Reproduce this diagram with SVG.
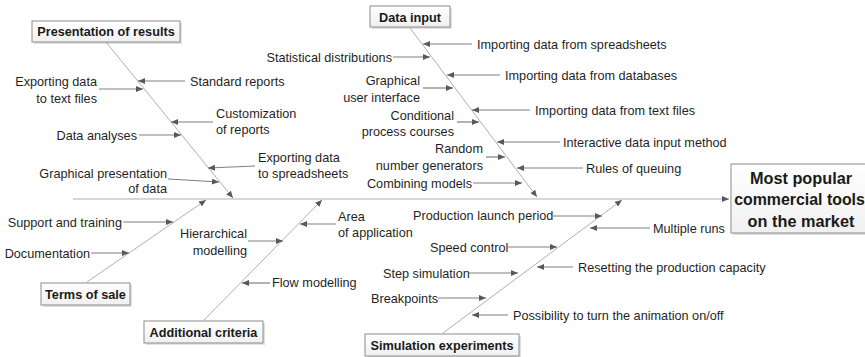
<svg xmlns="http://www.w3.org/2000/svg" width="865" height="357" viewBox="0 0 865 357">
  <defs>
    <style>
      .lbl { font-family: "Liberation Sans", Arial, sans-serif; font-size: 12.7px; fill: #1f1f1f; }
      .end { text-anchor: end; }
      .ttl { font-family: "Liberation Sans", Arial, sans-serif; font-size: 12.7px; font-weight: bold; fill: #1a1a1a; text-anchor: middle; }
      .big { font-family: "Liberation Sans", Arial, sans-serif; font-size: 16.3px; font-weight: bold; fill: #1a1a1a; text-anchor: middle; }
      .box { fill: url(#boxFill); stroke: #8c8c8c; stroke-width: 1; }
      .shadow { fill: #000; opacity: 0.12; }
      .spine { fill: none; stroke: #a6a6a6; stroke-width: 0.9; marker-end: url(#tip); }
      .cause { fill: none; stroke: #808080; stroke-width: 1.2; marker-end: url(#tip); }
    </style>
    <linearGradient id="boxFill" x1="0" y1="0" x2="0" y2="1">
      <stop offset="0" stop-color="#ffffff"/>
      <stop offset="1" stop-color="#f0f0f0"/>
    </linearGradient>
    <marker id="tip" markerUnits="userSpaceOnUse" markerWidth="8" markerHeight="6" refX="7" refY="3" orient="auto">
      <path d="M0,0 L7,3 L0,6 Z" fill="#595959"/>
    </marker>
  </defs>

  <!-- connectors: backbone, category bones and cause arrows -->
  <g id="connectors">
    <line class="spine" x1="73" y1="199" x2="729" y2="199"/>
    <line class="spine" x1="106" y1="42" x2="233" y2="198"/>
    <line class="spine" x1="410" y1="28" x2="537" y2="197"/>
    <line class="spine" x1="87" y1="282" x2="206" y2="200"/>
    <line class="spine" x1="204" y1="320" x2="322" y2="200"/>
    <line class="spine" x1="443" y1="333" x2="622" y2="200"/>

    <!-- presentation of results -->
    <line class="cause" x1="99" y1="89" x2="143" y2="89"/>
    <line class="cause" x1="185" y1="81" x2="138" y2="81"/>
    <line class="cause" x1="213" y1="122" x2="171" y2="122"/>
    <line class="cause" x1="139" y1="135" x2="181" y2="135"/>
    <line class="cause" x1="255" y1="166" x2="208" y2="168"/>
    <line class="cause" x1="168" y1="179" x2="219" y2="182"/>

    <!-- data input -->
    <line class="cause" x1="472" y1="44" x2="423" y2="44"/>
    <line class="cause" x1="393" y1="57" x2="430" y2="57"/>
    <line class="cause" x1="500" y1="75" x2="447" y2="75"/>
    <line class="cause" x1="423" y1="88" x2="453" y2="88"/>
    <line class="cause" x1="530" y1="110" x2="472" y2="110"/>
    <line class="cause" x1="457" y1="122" x2="479" y2="122"/>
    <line class="cause" x1="560" y1="142" x2="497" y2="142"/>
    <line class="cause" x1="486" y1="157" x2="505" y2="157"/>
    <line class="cause" x1="583" y1="168" x2="517" y2="168"/>
    <line class="cause" x1="473" y1="183" x2="522" y2="183"/>

    <!-- terms of sale -->
    <line class="cause" x1="123" y1="222" x2="173" y2="222"/>
    <line class="cause" x1="91" y1="253" x2="129" y2="253"/>

    <!-- additional criteria -->
    <line class="cause" x1="248" y1="241" x2="283" y2="241"/>
    <line class="cause" x1="336" y1="224" x2="300" y2="224"/>
    <line class="cause" x1="270" y1="283" x2="242" y2="283"/>

    <!-- simulation experiments -->
    <line class="cause" x1="553" y1="216" x2="602" y2="216"/>
    <line class="cause" x1="650" y1="228" x2="590" y2="228"/>
    <line class="cause" x1="508" y1="247" x2="557" y2="247"/>
    <line class="cause" x1="573" y1="267" x2="537" y2="267"/>
    <line class="cause" x1="469" y1="273" x2="518" y2="273"/>
    <line class="cause" x1="438" y1="298" x2="486" y2="298"/>
    <line class="cause" x1="508" y1="315" x2="472" y2="315"/>
  </g>

  <!-- category boxes -->
  <g id="presentation-of-results">
    <rect class="shadow" x="34" y="23" width="148" height="21"/>
    <rect class="box" x="32" y="21" width="148" height="21"/>
    <text class="ttl" x="106" y="36">Presentation of results</text>
  </g>
  <g id="data-input">
    <rect class="shadow" x="372" y="8" width="80" height="21"/>
    <rect class="box" x="370" y="6" width="80" height="21"/>
    <text class="ttl" x="410" y="21.5">Data input</text>
  </g>
  <g id="terms-of-sale">
    <rect class="shadow" x="43" y="285" width="89" height="22"/>
    <rect class="box" x="41" y="283" width="89" height="22"/>
    <text class="ttl" x="85.5" y="298.5">Terms of sale</text>
  </g>
  <g id="additional-criteria">
    <rect class="shadow" x="146" y="323" width="119" height="22"/>
    <rect class="box" x="144" y="321" width="119" height="22"/>
    <text class="ttl" x="203.5" y="336.5">Additional criteria</text>
  </g>
  <g id="simulation-experiments">
    <rect class="shadow" x="367" y="336" width="154" height="22"/>
    <rect class="box" x="365" y="334" width="154" height="22"/>
    <text class="ttl" x="442" y="349.5">Simulation experiments</text>
  </g>
  <g id="effect">
    <rect class="shadow" x="733" y="166" width="140" height="69"/>
    <rect class="box" x="731" y="164" width="140" height="69"/>
    <text class="big" x="801" y="183.5">Most popular</text>
    <text class="big" x="799.5" y="205" style="font-size:15.9px">commercial tools</text>
    <text class="big" x="801" y="226.5">on the market</text>
  </g>

  <!-- causes -->
  <g id="causes-presentation">
    <text class="lbl end" x="97" y="85.5">Exporting data</text>
    <text class="lbl end" x="97" y="102.5">to text files</text>
    <text class="lbl" x="190" y="85.5">Standard reports</text>
    <text class="lbl" x="216" y="117.5">Customization</text>
    <text class="lbl" x="216" y="133.5">of reports</text>
    <text class="lbl end" x="137" y="139.5">Data analyses</text>
    <text class="lbl" x="258" y="161.5">Exporting data</text>
    <text class="lbl" x="258" y="177.5">to spreadsheets</text>
    <text class="lbl end" x="167" y="177.5">Graphical presentation</text>
    <text class="lbl end" x="167" y="192.5">of data</text>
  </g>
  <g id="causes-data-input">
    <text class="lbl" x="477" y="48.5">Importing data from spreadsheets</text>
    <text class="lbl end" x="392" y="61.5">Statistical distributions</text>
    <text class="lbl" x="505" y="79.5">Importing data from databases</text>
    <text class="lbl end" x="420" y="84.5">Graphical</text>
    <text class="lbl end" x="420" y="101.5">user interface</text>
    <text class="lbl" x="535" y="114.5">Importing data from text files</text>
    <text class="lbl end" x="454" y="119.5">Conditional</text>
    <text class="lbl end" x="454" y="135.5">process courses</text>
    <text class="lbl" x="563" y="146.5">Interactive data input method</text>
    <text class="lbl end" x="483" y="152.5">Random</text>
    <text class="lbl end" x="483" y="169.5">number generators</text>
    <text class="lbl" x="586" y="172.5">Rules of queuing</text>
    <text class="lbl end" x="472" y="187.5">Combining models</text>
  </g>
  <g id="causes-terms">
    <text class="lbl end" x="122" y="226.5">Support and training</text>
    <text class="lbl end" x="90" y="257.5">Documentation</text>
  </g>
  <g id="causes-additional">
    <text class="lbl end" x="247" y="237.5">Hierarchical</text>
    <text class="lbl end" x="247" y="254.5">modelling</text>
    <text class="lbl" x="338" y="220.5">Area</text>
    <text class="lbl" x="338" y="236.5">of application</text>
    <text class="lbl" x="272" y="286.5">Flow modelling</text>
  </g>
  <g id="causes-simulation">
    <text class="lbl" x="413" y="219.5">Production launch period</text>
    <text class="lbl" x="653" y="232.5">Multiple runs</text>
    <text class="lbl" x="430" y="251.5">Speed control</text>
    <text class="lbl" x="578" y="271.5">Resetting the production capacity</text>
    <text class="lbl" x="383" y="277.5">Step simulation</text>
    <text class="lbl" x="371" y="302.5">Breakpoints</text>
    <text class="lbl" x="513" y="319.5">Possibility to turn the animation on/off</text>
  </g>
</svg>
